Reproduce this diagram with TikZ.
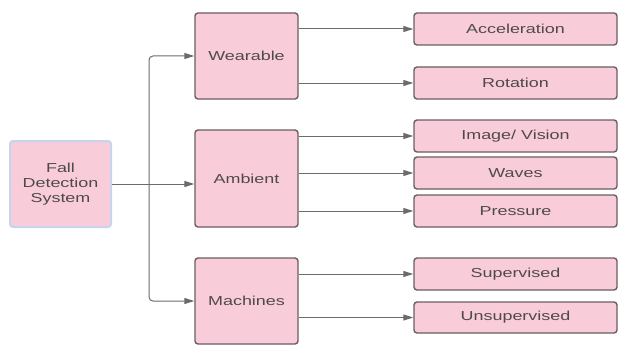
\documentclass[tikz,border=0pt]{standalone}
\usepackage{fontspec}
\setmainfont{Liberation Sans}[FakeStretch=1.38]
\usetikzlibrary{arrows.meta}
\definecolor{boxpink}{HTML}{F8CDD9}
\definecolor{boxline}{HTML}{6A5E62}
\definecolor{lavline}{HTML}{C8D4EC}
\definecolor{txt}{HTML}{4E4A4C}
\definecolor{arrcol}{HTML}{6B6B6B}
\tikzset{
  box/.style={draw=boxline, line width=1.4pt, fill=boxpink, rounded corners=3pt,
    inner sep=0pt, text=txt, font=\fontsize{13}{15}\selectfont, align=center},
  rootbox/.style={box, draw=lavline, line width=2pt},
  arr/.style={draw=arrcol, line width=1pt, -{Triangle[length=10pt,width=6pt]}}
}
\begin{document}
\begin{tikzpicture}[x=1pt,y=-1pt]
\useasboundingbox (0,0) rectangle (618,345);
\node[rootbox, minimum width=101pt, minimum height=86pt] (fall) at (60.5,184) {Fall\\Detection\\System};
\node[box, minimum width=103pt, minimum height=86pt] (wear) at (246.5,56) {Wearable};
\node[box, minimum width=103pt, minimum height=97pt] (amb) at (246.5,178.5) {Ambient};
\node[box, minimum width=103pt, minimum height=86pt] (mach) at (246.5,301) {Machines};
\node[box, minimum width=203pt, minimum height=32pt] (acc) at (515.5,29) {Acceleration};
\node[box, minimum width=203pt, minimum height=32pt] (rot) at (515.5,83) {Rotation};
\node[box, minimum width=203pt, minimum height=32pt] (img) at (515.5,136) {Image/ Vision};
\node[box, minimum width=203pt, minimum height=32pt] (wav) at (515.5,173) {Waves};
\node[box, minimum width=203pt, minimum height=32pt] (pres) at (515.5,211) {Pressure};
\node[box, minimum width=203pt, minimum height=32pt] (sup) at (515.5,274) {Supervised};
\node[box, minimum width=203pt, minimum height=31pt] (unsup) at (515.5,317.5) {Unsupervised};
\coordinate (jt) at (149,184);
\draw[arr] (fall.east |- jt) -- (amb.west |- jt);
\draw[arr, rounded corners=4pt] (jt) |- (wear.west);
\draw[arr, rounded corners=4pt] (jt) |- (mach.west);
\foreach \s/\t in {wear/acc, wear/rot, amb/img, amb/wav, amb/pres, mach/sup, mach/unsup}
  \draw[arr] (\s.east |- \t.west) -- (\t.west);
\end{tikzpicture}
\end{document}
